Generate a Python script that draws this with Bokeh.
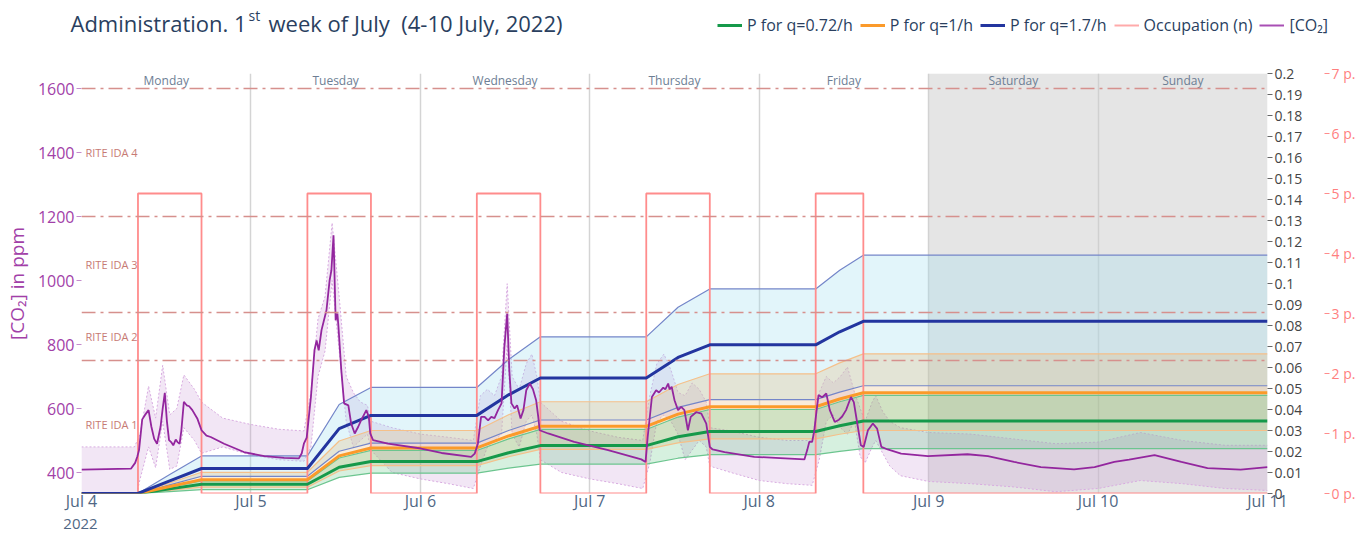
from bokeh.plotting import figure
from bokeh.layouts import column
from bokeh.models import (Range1d, LinearAxis, FixedTicker, NumeralTickFormatter,
                          PrintfTickFormatter, Legend, LegendItem, Label, BoxAnnotation, Span)
from bokeh.core.properties import value
from bokeh.embed import file_html
from bokeh.resources import INLINE

FONT = "Open Sans"

# ---------------- data (x = hours since 4 July 2022 00:00) ----------------
day_ticks = [0, 24, 48, 72, 96, 120, 144, 168]
day_tick_labels = ["Jul 4", "Jul 5", "Jul 6", "Jul 7", "Jul 8", "Jul 9", "Jul 10", "Jul 11"]
year_label = "2022"
day_centers = [12, 36, 60, 84, 108, 132, 156]
day_names = ["Monday", "Tuesday", "Wednesday", "Thursday", "Friday", "Saturday", "Sunday"]
weekend_start, weekend_end = 120, 168

ida_levels = [750, 900, 1200, 1600]
ida_labels = ["RITE IDA 1", "RITE IDA 2", "RITE IDA 3", "RITE IDA 4"]
ida_label_ppm = [550, 825, 1050, 1400]

co2_ticks = [400, 600, 800, 1000, 1200, 1400, 1600]
p_ticks = [0, 0.01, 0.02, 0.03, 0.04, 0.05, 0.06, 0.07, 0.08, 0.09, 0.1,
           0.11, 0.12, 0.13, 0.14, 0.15, 0.16, 0.17, 0.18, 0.19, 0.2]
occ_ticks = [0, 1, 2, 3, 4, 5, 6, 7]

co2_hours = [0, 7.0, 7.6, 7.9, 8.15, 8.6, 9.0, 9.5, 9.9, 10.3, 10.7, 11.2, 11.5, 11.8, 12.1,
             12.4, 12.7, 13.0, 13.35, 13.6, 13.9, 14.15, 14.5, 14.9, 15.25, 15.7, 16.4, 17.0,
             17.7, 18.3, 20.2, 23.0, 25.9, 28.7, 30.8, 31.2, 31.5, 31.9, 32.5, 33.0, 33.3,
             33.6, 34.0, 34.7, 35.15, 35.4, 35.7, 36.0, 36.25, 36.4, 36.8, 37.2, 37.8, 38.2,
             38.7, 39.2, 39.6, 40.35, 40.7, 40.9, 41.3, 43.4, 48.1, 51.0, 55.2, 55.7, 56.15,
             56.6, 57.1, 57.6, 58.05, 58.5, 59.0, 59.5, 59.9, 60.3, 60.6, 60.9, 61.35, 61.7,
             62.2, 62.6, 63.0, 63.5, 63.95, 64.4, 64.7, 64.9, 66.1, 69.8, 74.6, 79.3, 79.9,
             80.2, 80.8, 81.4, 81.8, 82.4, 82.7, 83.1, 83.3, 83.6, 84.0, 84.5, 84.95, 85.4,
             85.9, 86.3, 87.1, 87.8, 88.5, 89.0, 89.4, 91.1, 95.3, 99.0, 102.4, 102.8, 103.1,
             103.5, 103.8, 104.1, 104.4, 104.9, 105.5, 106.0, 106.7, 107.3, 107.75, 108.3,
             109.0, 109.4, 110.05, 110.4, 110.8, 111.4, 112.1, 112.7, 113.3, 114.2, 116.1,
             119.9, 125.5, 128.4, 132.1, 135.9, 140.6, 143.5, 146.3, 148.4, 152.0, 155.8,
             159.5, 164.2, 168.0]
co2_ppm = [409, 412, 430, 449, 470, 566, 580, 595, 543, 505, 490, 543, 600, 649, 560,
           501, 495, 485, 503, 495, 490, 532, 621, 610, 607, 595, 569, 532,
           515, 511, 490, 464, 451, 446, 444, 460, 490, 509, 636, 782, 813,
           782, 845, 907, 1001, 1032, 1141, 876, 897, 855, 720, 616, 610, 553,
           522, 543, 563, 595, 574, 522, 501, 490, 475, 461, 449, 459, 490,
           574, 574, 563, 574, 570, 595, 616, 792, 897, 720, 616, 600, 610,
           569, 595, 657, 678, 660, 626, 574, 532, 522, 496, 470, 441, 433,
           511, 636, 657, 650, 665, 660, 678, 660, 668, 626, 595, 605, 595,
           532, 574, 589, 584, 553, 480, 472, 464, 449, 445, 441, 470, 496,
           496, 530, 589, 642, 635, 647, 595, 558, 565, 575, 595,
           636, 620, 532, 485, 480, 532, 553, 537, 480, 472, 459,
           451, 457, 451, 433, 417, 410, 417, 433, 440, 454, 433,
           414, 409, 417]

band_hours = [0, 7.5, 8.3, 9.5, 10.5, 11.5, 12.5, 13.5, 14.5, 16, 17, 20, 24, 28, 31.5,
              32.5, 33.5, 34.5, 35.5, 36.5, 37.5, 38.5, 39.5, 40.5, 41, 44, 48, 52, 55.5,
              56.5, 57.5, 58.5, 59.5, 60.3, 61, 62, 63, 63.8, 64.5, 65, 68, 72, 76, 79.5,
              80.5, 81.5, 82.5, 83.5, 84.5, 85.5, 86.5, 87.5, 88.5, 89, 92, 96, 100, 103.5,
              104.5, 105.5, 106.5, 107.5, 108.5, 109.5, 110.3, 111, 112, 112.5, 113.5, 114.5,
              116, 120, 126, 132, 138, 144, 150, 156, 162, 168]
band_upper = [480, 480, 520, 670, 570, 735, 580, 600, 705, 660, 620, 570, 550, 535, 530,
              650, 880, 950, 1180, 950, 700, 650, 620, 610, 560, 540, 520, 510, 500,
              640, 660, 640, 700, 990, 700, 660, 740, 770, 700, 620, 560, 530, 510, 500,
              640, 740, 770, 720, 650, 640, 680, 660, 620, 540, 530, 510, 500, 500,
              650, 700, 680, 700, 730, 650, 600, 560, 620, 640, 590, 560,
              540, 525, 520, 505, 490, 495, 525, 500, 485, 485]
band_lower = [300, 300, 380, 480, 415, 560, 410, 420, 540, 500, 460, 480, 455, 440, 435,
              480, 700, 780, 1000, 780, 560, 480, 500, 520, 470, 400, 380, 365, 350,
              420, 480, 500, 520, 800, 520, 480, 560, 580, 520, 440, 400, 380, 365, 350,
              430, 560, 580, 560, 520, 440, 470, 500, 480, 420, 400, 375, 365, 360,
              440, 560, 580, 540, 520, 560, 450, 430, 480, 500, 460, 420,
              390, 372, 365, 355, 340, 350, 375, 365, 350, 344]

p_hours = [0, 8, 12.5, 17, 32, 36.5, 41, 56, 60.5, 65, 80, 84.5, 89, 104, 107.4, 110.75, 168]
p17_upper = [0, 0, 0.009, 0.0179, 0.0179, 0.0424, 0.0505, 0.0505, 0.0638, 0.0746, 0.0746,
             0.0887, 0.0974, 0.0974, 0.1063, 0.1135, 0.1135]
p17_mid = [0, 0, 0.006, 0.0119, 0.0119, 0.0309, 0.0372, 0.0372, 0.0470, 0.055, 0.055,
           0.0648, 0.0708, 0.0708, 0.0770, 0.082, 0.082]
p17_lower = [0, 0, 0.0041, 0.0082, 0.0082, 0.0201, 0.024, 0.024, 0.0300, 0.035, 0.035,
             0.0410, 0.0447, 0.0447, 0.0483, 0.0513, 0.0513]
p1_upper = [0, 0, 0.005, 0.0101, 0.0101, 0.0250, 0.030, 0.030, 0.0375, 0.0437, 0.0437,
            0.0519, 0.057, 0.057, 0.0622, 0.0665, 0.0665]
p1_mid = [0, 0, 0.0033, 0.0066, 0.0066, 0.0179, 0.0217, 0.0217, 0.0274, 0.032, 0.032,
          0.0378, 0.0413, 0.0413, 0.0450, 0.048, 0.048]
p1_lower = [0, 0, 0.0015, 0.003, 0.003, 0.0107, 0.0133, 0.0133, 0.0175, 0.021, 0.021,
            0.0241, 0.026, 0.026, 0.0282, 0.030, 0.030]
p072_upper = [0, 0, 0.003, 0.006, 0.006, 0.0169, 0.0205, 0.0205, 0.0260, 0.0305, 0.0305,
              0.0364, 0.040, 0.040, 0.0437, 0.0467, 0.0467]
p072_mid = [0, 0, 0.0022, 0.0044, 0.0044, 0.0125, 0.0152, 0.0152, 0.0194, 0.0228, 0.0228,
            0.0270, 0.0295, 0.0295, 0.0323, 0.0345, 0.0345]
p072_lower = [0, 0, 0.0009, 0.0018, 0.0018, 0.0077, 0.0097, 0.0097, 0.0121, 0.014, 0.014,
              0.0168, 0.0185, 0.0185, 0.0201, 0.0214, 0.0214]

occ_hours = [0, 8, 17, 32, 41, 56, 65, 80, 89, 104, 110.75, 168]
occ_n = [0, 5, 0, 5, 0, 5, 0, 5, 0, 5, 0, 0]

title_parts = ["Administration. 1", "st", "week of July\u00a0\u00a0(4-10 July, 2022)"]
legend_labels = ["P for q=0.72/h", "P for q=1/h", "P for q=1.7/h", "Occupation (n)", "[CO\u2082]"]

# ---------------- colours ----------------
C_GREEN = "#15994a"
C_ORANGE = "#fb9a2a"
C_BLUE = "#23359f"
C_OCC = "#ff8c8c"
C_CO2 = "#93269e"
C_CO2_TXT = "#a23fa8"
TC = "#2a3f5f"
W = 1359


def blank(height):
    f = figure(width=W, height=height, x_range=Range1d(0, W), y_range=Range1d(0, height),
               x_axis_type=None, y_axis_type=None, min_border=0,
               output_backend="svg", toolbar_location=None)
    f.outline_line_color = None
    f.grid.visible = False
    f.frame_align = False
    return f


# ================= header (title + legend) =================
HH = 60
h = blank(HH)
h.add_layout(Label(x=70, y=38, text=title_parts[0], text_font=FONT, text_font_size="22px",
                   text_color=TC, text_baseline="middle"))
h.add_layout(Label(x=248, y=45, text=title_parts[1], text_font=FONT, text_font_size="14px",
                   text_color=TC, text_baseline="middle"))
h.add_layout(Label(x=268, y=38, text=title_parts[2], text_font=FONT, text_font_size="22px",
                   text_color=TC, text_baseline="middle"))

lg_styles = [(C_GREEN, 3), (C_ORANGE, 3), (C_BLUE, 3), ("#ffaaaa", 2), ("#a84fb4", 2)]
items = []
for lab, (col, w) in zip(legend_labels, lg_styles):
    r = h.line(x=[0], y=[-100], line_color=col, line_width=w)
    items.append(LegendItem(label=lab, renderers=[r]))
legend = Legend(items=items, orientation="horizontal", location=(717, 24))
legend.background_fill_alpha = 0
legend.border_line_color = None
legend.padding = 0
legend.margin = 0
legend.spacing = 7
legend.glyph_width = 25
legend.label_standoff = 5
legend.label_text_font = FONT
legend.label_text_font_size = "16px"
legend.label_text_color = TC
h.add_layout(legend)

# ================= main chart =================
p = figure(frame_width=1186, frame_height=420,
           min_border_left=80, min_border_right=93, min_border_top=13, min_border_bottom=20,
           x_range=Range1d(0, 168), y_range=Range1d(334.4, 1646.9),
           output_backend="svg", toolbar_location=None, background_fill_color="white")
p.frame_align = False
p.extra_y_ranges = {"p": Range1d(0, 0.2), "occ": Range1d(0, 7)}
p.outline_line_color = None
p.ygrid.visible = False
p.xgrid.grid_line_color = "#d4d4d4"
p.xgrid.grid_line_width = 1.5

# weekend shading
p.add_layout(BoxAnnotation(left=weekend_start, right=weekend_end, fill_color="#cccccc",
                           fill_alpha=0.5, line_color=None, level="underlay"))

# CO2 band
p.varea(x=band_hours, y1=band_lower, y2=band_upper, fill_color="#c58fd0", fill_alpha=0.22)
p.line(band_hours, band_upper, line_color="#d8abe0", line_dash="2 2", line_width=1)
p.line(band_hours, band_lower, line_color="#d8abe0", line_dash="2 2", line_width=1)

# P bands
p.varea(x=p_hours, y1=p17_lower, y2=p17_upper, y_range_name="p", fill_color="#9fdff0", fill_alpha=0.3)
p.varea(x=p_hours, y1=p1_lower, y2=p1_upper, y_range_name="p", fill_color="#e8b46a", fill_alpha=0.25)
p.varea(x=p_hours, y1=p072_lower, y2=p072_upper, y_range_name="p", fill_color="#5cc27f", fill_alpha=0.25)
for ys, col in [(p17_upper, "#7486c9"), (p17_lower, "#7486c9"), (p1_upper, "#f5c08a"),
                (p1_lower, "#f5c08a"), (p072_upper, "#6cc58f"), (p072_lower, "#6cc58f")]:
    p.line(p_hours, ys, y_range_name="p", line_color=col, line_width=1.2)

# RITE IDA thresholds
for lvl in ida_levels:
    p.add_layout(Span(location=lvl, dimension="width", line_color="#d6908d",
                      line_dash="14 5 3 5", line_width=1.5))

p.text(x=[0] * len(ida_labels), y=ida_label_ppm, text=ida_labels, x_offset=4,
       text_font=value(FONT), text_font_size="11px", text_color="#c77a74",
       text_baseline="middle", text_align="left")
p.text(x=day_centers, y=[1625] * len(day_centers), text=day_names,
       text_font=value(FONT), text_font_size="12px", text_color="#6d7e94",
       text_baseline="middle", text_align="center")

# occupation
p.step(occ_hours, occ_n, mode="after", y_range_name="occ", line_color=C_OCC, line_width=1.8)

# central P lines
p.line(p_hours, p072_mid, y_range_name="p", line_color=C_GREEN, line_width=3)
p.line(p_hours, p1_mid, y_range_name="p", line_color=C_ORANGE, line_width=3)
p.line(p_hours, p17_mid, y_range_name="p", line_color=C_BLUE, line_width=3)

# CO2
p.line(co2_hours, co2_ppm, line_color=C_CO2, line_width=1.8)

# ---------------- axes ----------------
xa = p.xaxis[0]
xa.ticker = FixedTicker(ticks=day_ticks)
xa.major_label_overrides = dict(zip(day_ticks, day_tick_labels))
xa.axis_line_color = None
xa.major_tick_line_color = None
xa.major_tick_out = 0
xa.major_tick_in = 0
xa.minor_tick_line_color = None
xa.minor_tick_out = 0
xa.major_label_text_font = FONT
xa.major_label_text_font_size = "16px"
xa.major_label_text_color = "#506784"
xa.major_label_standoff = -4
p.xgrid.ticker = FixedTicker(ticks=day_ticks)

ya = p.yaxis[0]
ya.ticker = FixedTicker(ticks=co2_ticks)
ya.axis_label = "[CO\u2082] in ppm"
ya.axis_label_text_font = FONT
ya.axis_label_text_font_style = "normal"
ya.axis_label_text_font_size = "19px"
ya.axis_label_text_color = C_CO2_TXT
ya.axis_label_standoff = 5
ya.axis_line_color = None
ya.major_tick_line_color = "#c48ccc"
ya.major_tick_out = 5
ya.major_tick_in = 0
ya.minor_tick_line_color = None
ya.major_label_text_font = FONT
ya.major_label_text_font_size = "16px"
ya.major_label_text_color = C_CO2_TXT
ya.major_label_standoff = 2

ax_p = LinearAxis(y_range_name="p", ticker=FixedTicker(ticks=p_ticks),
                  formatter=NumeralTickFormatter(format="0.[00]"))
ax_p.axis_line_color = None
ax_p.major_tick_line_color = "#666666"
ax_p.major_tick_out = 5
ax_p.major_tick_in = 0
ax_p.minor_tick_line_color = None
ax_p.major_label_text_font = FONT
ax_p.major_label_text_font_size = "14px"
ax_p.major_label_text_color = "#444444"
ax_p.major_label_standoff = 2
ax_p.axis_label = "\u00a0"
ax_p.axis_label_text_font_size = "8px"
ax_p.axis_label_standoff = 7
p.add_layout(ax_p, "right")

ax_o = LinearAxis(y_range_name="occ", ticker=FixedTicker(ticks=occ_ticks),
                  formatter=PrintfTickFormatter(format="%d p."))
ax_o.axis_line_color = None
ax_o.major_tick_line_color = C_OCC
ax_o.major_tick_out = 5
ax_o.major_tick_in = 0
ax_o.minor_tick_line_color = None
ax_o.major_label_text_font = FONT
ax_o.major_label_text_font_size = "14px"
ax_o.major_label_text_color = "#ff7f7f"
ax_o.major_label_standoff = 2
p.add_layout(ax_o, "right")

# ================= footer (year under first tick) =================
FH = 19
ft = blank(FH)
ft.add_layout(Label(x=80, y=9.5, text=year_label, text_font=FONT, text_font_size="15px",
                    text_color="#506784", text_baseline="middle", text_align="center"))

layout = column(h, p, ft, spacing=0)
open("out.html", "w").write(file_html(layout, INLINE))
